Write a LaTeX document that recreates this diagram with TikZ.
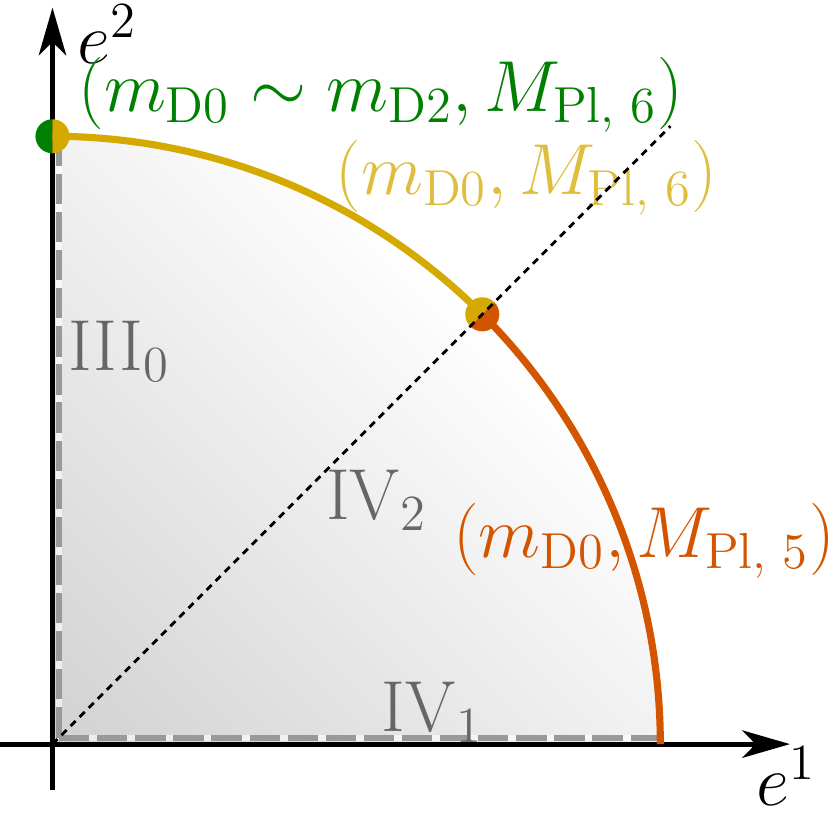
\RequirePackage{fix-cm}
\documentclass[tikz,border=0pt]{standalone}
\usepackage{amsmath,amssymb}
\usepackage{tikz}
\usetikzlibrary{arrows.meta}
\definecolor{darkgreen}{RGB}{0,128,0}
\definecolor{gold}{RGB}{212,170,0}
\definecolor{goldtext}{RGB}{222,190,60}
\definecolor{rust}{RGB}{212,85,0}
\definecolor{regiongray}{RGB}{102,102,102}

\begin{document}
\begin{tikzpicture}[
  axis/.style={line width=1.4pt, -{Stealth[length=4.7mm, width=2.7mm, inset=1.3mm]}},
  branch/.style={line width=2pt},
  lbl/.style={font=\fontsize{20.3}{24}\selectfont, inner sep=0pt},
  region/.style={lbl, text=regiongray},
  edgeline/.style={line width=1.7pt, black!40, dash pattern=on 8.5pt off 2.2pt}
]
  \useasboundingbox (-0.518,-0.671) rectangle (7.675,7.345);

  % Points on the boundary
  \coordinate (O) at (0,0);
  \coordinate (P6) at (90:6);
  \coordinate (Pm) at (45:6);
  \coordinate (P5) at (0:6);
  \coordinate (D) at (6.1,6.1);

  % Shaded quarter disk (fades along the diagonal)
  \begin{scope}
    \clip (O) -- (P5) arc[start angle=0, end angle=90, radius=6] -- cycle;
    \shade[transform canvas={rotate=45}, left color=black!18, right color=white]
      (0,-4.3) rectangle (6,4.3);
  \end{scope}

  % Dashed edges along the axes
  \coordinate (ex) at (6,0.065);
  \coordinate (ey) at (0.065,6);
  \coordinate (e0) at (0.065,0.065);
  \draw[line width=1.7pt, white, opacity=0.6] (ey) -- (e0) -- (ex);
  \draw[edgeline] (e0) -- (ex);
  \draw[edgeline] (e0) -- (ey);

  % Axes
  \coordinate (xs) at (-0.6,0);
  \coordinate (xe) at (7.28,0);
  \coordinate (ys) at (0,-0.454);
  \coordinate (ye) at (0,7.27);
  \draw[axis] (xs) -- (xe);
  \draw[axis] (ys) -- (ye);
  \node[lbl] (e1) at (7.24,-0.32) {$e^1$};
  \node[lbl] (e2) at (0.543,7.01) {$e^2$};

  % Labels
  \node[lbl, text=darkgreen] (lg) at (3.24,6.41) {$(m_{\mathrm{D0}}\sim m_{\mathrm{D2}}, M_{\text{Pl, 6}})$};
  \node[lbl, text=goldtext] (ly) at (4.68,5.59) {$(m_{\mathrm{D0}}, M_{\text{Pl, 6}})$};
  \node[lbl, text=rust] (lr) at (5.84,2.01) {$(m_{\mathrm{D0}}, M_{\text{Pl, 5}})$};
  \node[region] (r3) at (0.657,3.88) {$\mathrm{III}_0$};
  \node[region] (r2) at (3.20,2.41) {$\mathrm{IV}_2$};
  \node[region] (r1) at (3.75,0.316) {$\mathrm{IV}_1$};

  % Boundary arcs
  \draw[branch, gold] (P6) arc[start angle=90, end angle=45, radius=6];
  \draw[branch, rust] (Pm) arc[start angle=45, end angle=0, radius=6];

  % Dots
  \fill[darkgreen, shift={(P6)}] (90:0.168) arc[start angle=90, end angle=270, radius=0.168] -- cycle;
  \fill[gold, shift={(P6)}] (-90:0.168) arc[start angle=-90, end angle=90, radius=0.168] -- cycle;
  \fill[gold, shift={(Pm)}] (45:0.168) arc[start angle=45, end angle=225, radius=0.168] -- cycle;
  \fill[rust, shift={(Pm)}] (225:0.168) arc[start angle=225, end angle=405, radius=0.168] -- cycle;

  % Diagonal
  \draw[line width=0.8pt, dash pattern=on 2pt off 1.6pt] (O) -- (D);
\end{tikzpicture}
\end{document}
